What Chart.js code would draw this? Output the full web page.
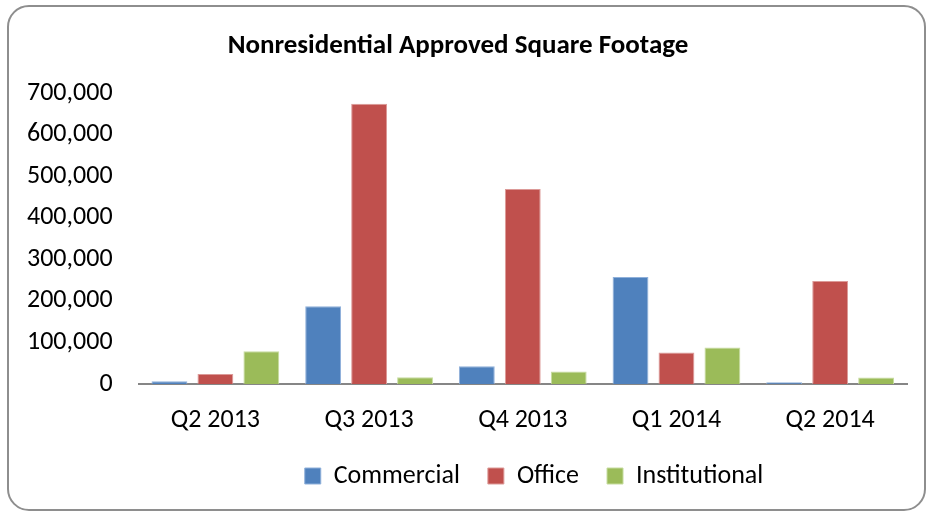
<!DOCTYPE html>
<html>
<head>
<meta charset="utf-8">
<script src="https://cdn.jsdelivr.net/npm/chart.js@4/dist/chart.umd.min.js"></script>
<style>
  html, body { margin: 0; padding: 0; background: #ffffff; }
  #wrap { position: relative; width: 930px; height: 514px; overflow: hidden; }
  #frame { position: absolute; left: 7px; top: 5px; width: 915px; height: 502px;
           border: 2px solid #8e8e8e; border-radius: 22px; box-sizing: content-box; }
  canvas { position: absolute; left: 0; top: 0; }
</style>
</head>
<body>
<div id="wrap">
  <div id="frame"></div>
  <canvas id="c" width="930" height="514"></canvas>
</div>
<script>
const categories = ['Q2 2013', 'Q3 2013', 'Q4 2013', 'Q1 2014', 'Q2 2014'];
const commercial = [6500, 187000, 43000, 258000, 4000];
const office = [24000, 675000, 470000, 76000, 248000];
const institutional = [79000, 16000, 30000, 88000, 15500];
const yTicks = [0, 100000, 200000, 300000, 400000, 500000, 600000, 700000];

const FONT = 'Carlito, Calibri, Lato, "Open Sans", sans-serif';

// Excel placed the legend off-centre (to the right); shift the legend box accordingly.
const legendShift = {
  id: 'legendShift',
  afterLayout(chart) {
    const lg = chart.legend;
    if (lg) { lg.left += 76; lg.right += 76; }
  }
};

new Chart(document.getElementById('c'), {
  type: 'bar',
  data: {
    labels: categories,
    datasets: [
      { label: 'Commercial', data: commercial, backgroundColor: '#4F81BD', borderColor: '#8fb0da', borderWidth: 1 },
      { label: 'Office', data: office, backgroundColor: '#C0504D', borderColor: '#dc9a98', borderWidth: 1 },
      { label: 'Institutional', data: institutional, backgroundColor: '#9BBB59', borderColor: '#c6dc9f', borderWidth: 1 }
    ]
  },
  plugins: [legendShift],
  options: {
    responsive: false,
    animation: false,
    devicePixelRatio: 1,
    datasets: { bar: { categoryPercentage: 0.897, barPercentage: 0.78 } },
    layout: { padding: { left: 9, right: 23, top: 30, bottom: 15 } },
    plugins: {
      title: {
        display: true,
        text: 'Nonresidential Approved Square Footage',
        color: '#000',
        font: { family: FONT, size: 27, weight: 'bold' },
        padding: { top: 0, bottom: 31 }
      },
      legend: {
        position: 'bottom',
        labels: {
          color: '#000',
          font: { family: FONT, size: 26 },
          boxWidth: 16, boxHeight: 16, padding: 28
        }
      },
      tooltip: { enabled: false }
    },
    scales: {
      x: {
        grid: { display: false },
        border: { display: true, color: '#868686', width: 2 },
        ticks: { color: '#000', font: { family: FONT, size: 26 }, padding: 13 },
        afterFit: (s) => { s.height = 51; }
      },
      y: {
        min: 0, max: 700000,
        afterBuildTicks: (s) => { s.ticks = yTicks.map(v => ({ value: v })); },
        grid: { display: false },
        border: { display: false },
        ticks: {
          color: '#000', font: { family: FONT, size: 26 }, padding: 18,
          callback: (v) => v.toLocaleString('en-US')
        }
      }
    }
  }
});
</script>
</body>
</html>
